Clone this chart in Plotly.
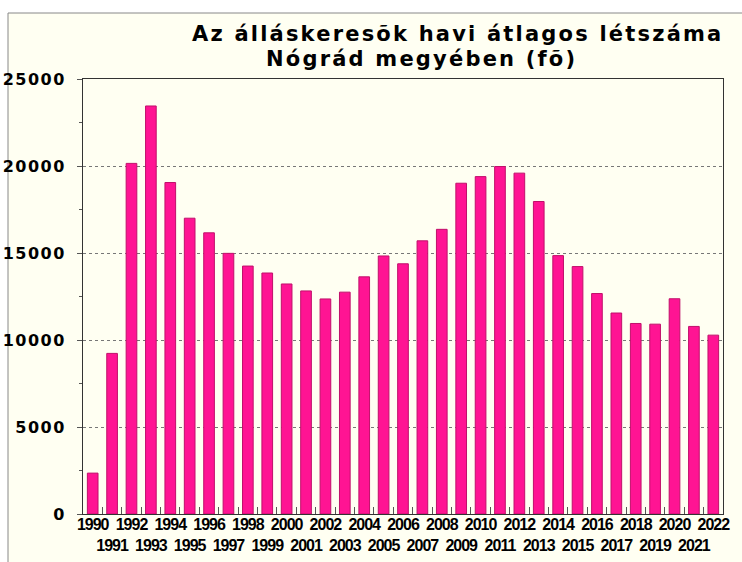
import plotly.graph_objects as go

years = [str(y) for y in range(1990, 2023)]
values = [2350, 9230, 20150, 23450, 19050, 17000, 16160, 14980, 14250, 13850,
          13220, 12820, 12360, 12750, 13630, 14830, 14380, 15700, 16360, 19010,
          19390, 19970, 19590, 17960, 14850, 14220, 12670, 11550, 10950, 10910,
          12370, 10780, 10280]
y_ticks = [0, 5000, 10000, 15000, 20000, 25000]
title_lines = ["Az álláskeresõk havi átlagos létszáma", "Nógrád megyében (fõ)"]

BG = "#FFFFF2"
BAR = "#FF1493"

L, T, R, B = 83, 79, 742 - 723, 562 - 514
PW, PH = 640, 435


def sp(text, ls):
    return f'<span style="letter-spacing:{ls}px">{text}</span>'


def py2paper(py):
    return (514 - py) / PH


def px2paper(px):
    return (px - 83) / PW


xt_text = [sp(y, -1.0) if i % 2 == 0 else "<br>" + sp(y, -1.0) for i, y in enumerate(years)]

fig = go.Figure()
fig.add_trace(go.Bar(
    x=years, y=values,
    marker=dict(color=BAR, line=dict(color="#C0106A", width=1)),
))

fig.update_layout(
    width=742, height=562,
    margin=dict(l=L, r=R, t=T, b=B),
    paper_bgcolor="white",
    plot_bgcolor=BG,
    bargap=0.45,
    showlegend=False,
    shapes=[dict(type="rect", xref="paper", yref="paper",
                 x0=px2paper(8), x1=1.2, y0=-0.3, y1=py2paper(13),
                 fillcolor=BG, line=dict(color="#888888", width=1), layer="below")],
    annotations=[
        dict(text=sp(title_lines[0], 2.2), x=px2paper(457), y=py2paper(33.5),
             xref="paper", yref="paper", showarrow=False, xanchor="center", yanchor="middle",
             font=dict(family="DejaVu Sans", size=21, color="black", weight="bold")),
        dict(text=sp(title_lines[1], 2.2), x=px2paper(421), y=py2paper(58.5),
             xref="paper", yref="paper", showarrow=False, xanchor="center", yanchor="middle",
             font=dict(family="DejaVu Sans", size=21, color="black", weight="bold")),
    ],
)

fig.update_xaxes(
    type="category",
    tickvals=years, ticktext=xt_text,
    tickson="boundaries", ticks="inside", ticklen=7, tickcolor="#555555",
    showgrid=False, showline=True, linecolor="#333333", linewidth=1, mirror=True,
    tickfont=dict(family="Liberation Sans", size=16, color="black", weight="bold"),
    tickangle=0, automargin=False, ticklabelstandoff=-4,
)
fig.update_yaxes(
    range=[0, 25000], tickvals=y_ticks, ticktext=[sp(str(v), 1.5) for v in y_ticks],
    ticks="outside", ticklen=5, tickcolor="#555555",
    minor=dict(dtick=2500, ticks="outside", ticklen=3, tickcolor="#555555", showgrid=False),
    showgrid=True, gridcolor="#777777", griddash="dot", gridwidth=1,
    showline=True, linecolor="#333333", linewidth=1, mirror=True,
    zeroline=False,
    tickfont=dict(family="DejaVu Sans", size=16, color="black", weight="bold"),
    ticklabelstandoff=8, automargin=False,
)

fig.write_html("out.html", config={"displayModeBar": False},
               post_script="document.body.style.margin='0px';")
